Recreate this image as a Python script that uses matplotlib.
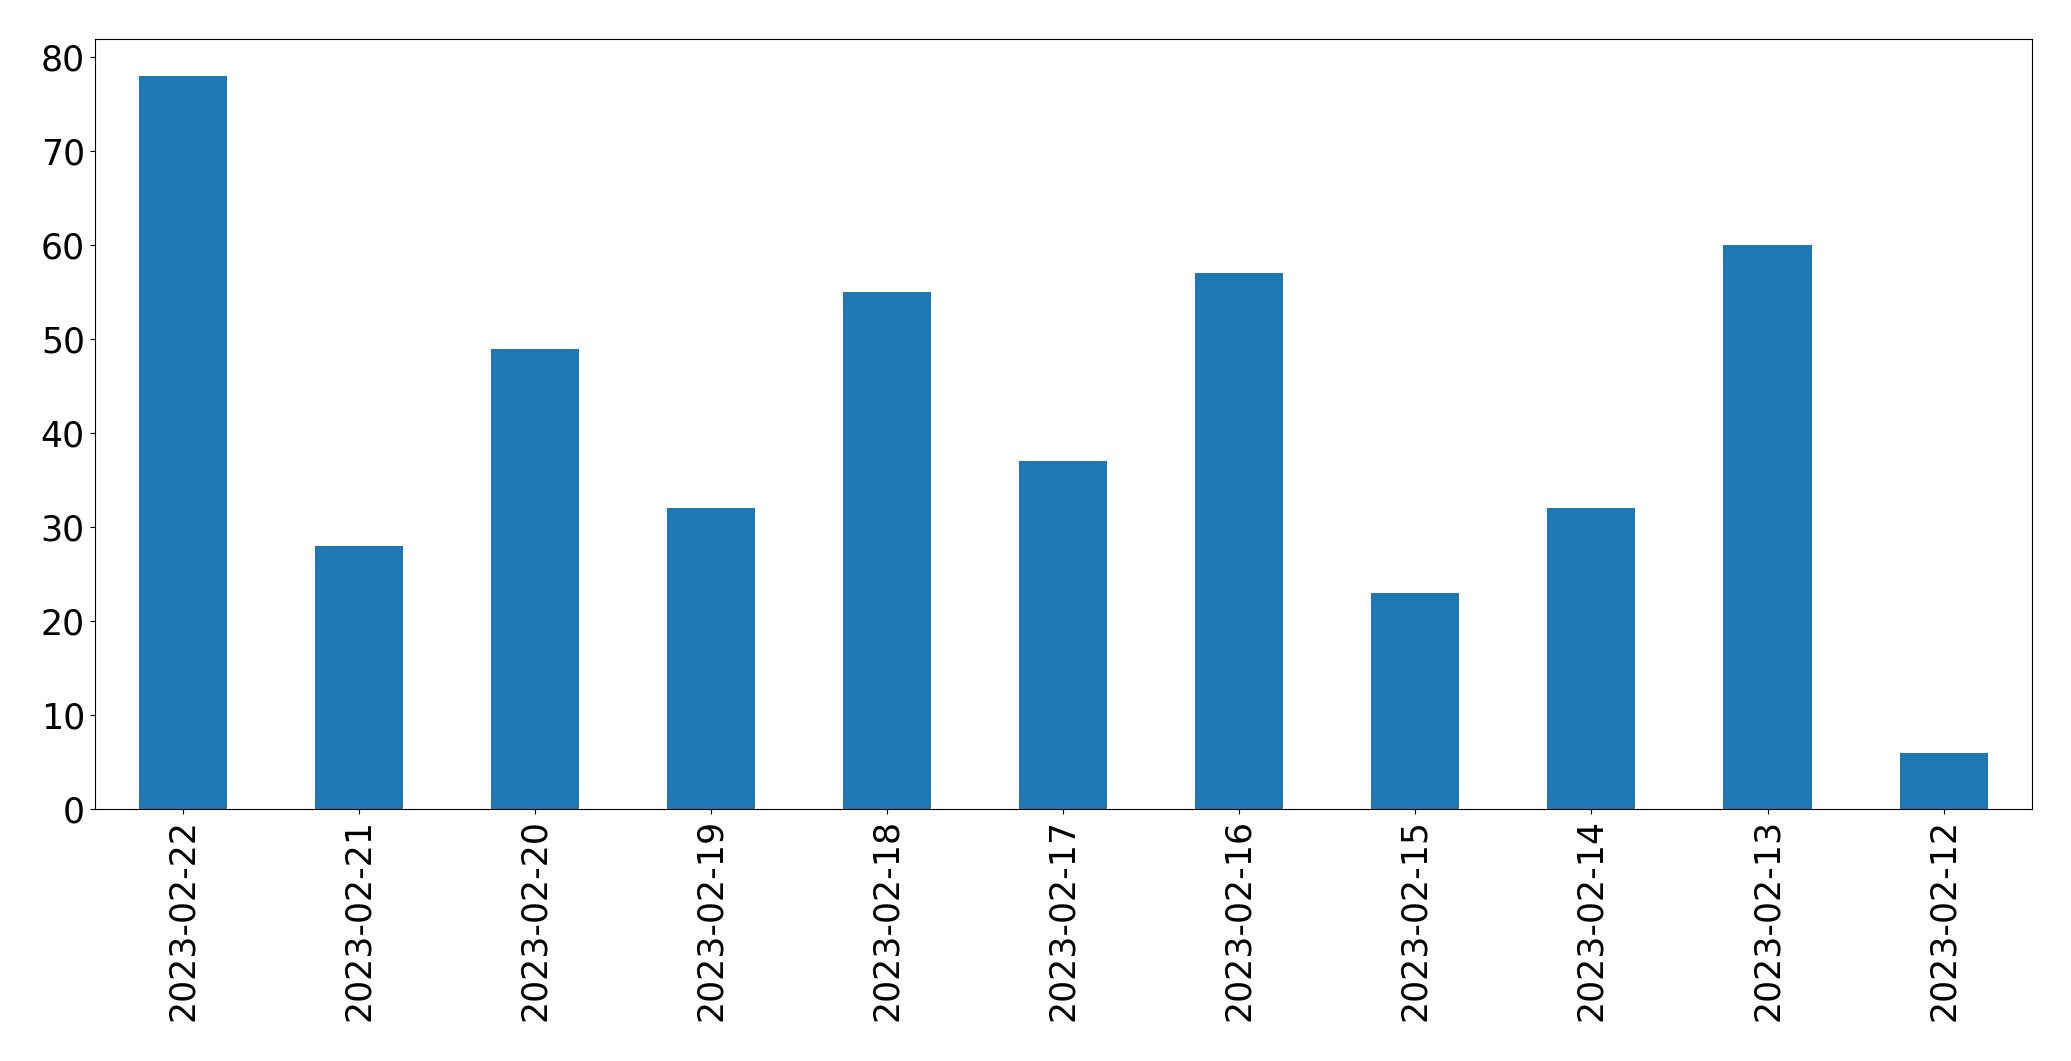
import matplotlib
matplotlib.use("Agg")
import matplotlib.pyplot as plt
import numpy as np

dates = ['2023-02-22', '2023-02-21', '2023-02-20', '2023-02-19', '2023-02-18',
         '2023-02-17', '2023-02-16', '2023-02-15', '2023-02-14', '2023-02-13',
         '2023-02-12']
counts = [78, 28, 49, 32, 55, 37, 57, 23, 32, 60, 6]

fig, ax = plt.subplots(figsize=(20.71, 10.61), dpi=100)
fig.subplots_adjust(left=0.0457, right=0.981, top=0.9628, bottom=0.2375)

x = np.arange(len(dates))
ax.bar(x, counts, width=0.5, color='#1f77b4')
ax.set_xlim(-0.5, len(dates) - 0.5)
ax.set_xticks(x)
ax.set_xticklabels(dates, rotation=90)
ax.tick_params(axis='both', labelsize=25)

fig.savefig('out.png', dpi=100)
